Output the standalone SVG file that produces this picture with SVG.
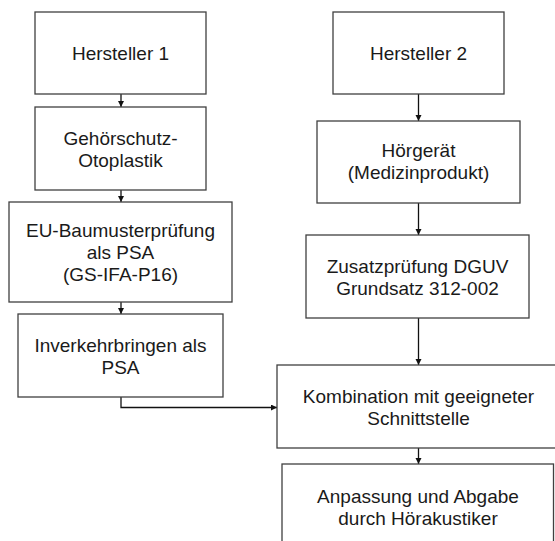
<svg xmlns="http://www.w3.org/2000/svg" width="555" height="541" viewBox="0 0 555 541">
<style>
.box{fill:#fff;stroke:#404040;stroke-width:1.3}
.t{font-family:"Liberation Sans",Arial,sans-serif;font-size:19px;fill:#1a1a1a;text-anchor:middle}
.c{fill:none;stroke:#111;stroke-width:1.3;marker-end:url(#ah)}
</style>
<defs>
<marker id="ah" markerUnits="userSpaceOnUse" markerWidth="7" markerHeight="7" refX="6" refY="3" orient="auto">
<path d="M0,0 L6,3 L0,6 z" fill="#111"/>
</marker>
</defs>
<rect width="555" height="541" fill="#fff"/>
<g id="connectors">
<path class="c" d="M121,94 V107"/>
<path class="c" d="M121,190 V202"/>
<path class="c" d="M121,302 V314"/>
<path class="c" d="M121,397 V407.5 H277"/>
<path class="c" d="M418.5,94 V121"/>
<path class="c" d="M418.5,203 V235"/>
<path class="c" d="M418.5,318 V365"/>
<path class="c" d="M418.5,448 V464"/>
</g>
<g id="hersteller1">
<rect class="box" x="35" y="12" width="171" height="82"/>
<text class="t" x="120.5" y="60">Hersteller 1</text>
</g>
<g id="otoplastik">
<rect class="box" x="35" y="107" width="171" height="83"/>
<text class="t" x="120.5" y="145">Gehörschutz-</text>
<text class="t" x="120.5" y="167">Otoplastik</text>
</g>
<g id="baumuster">
<rect class="box" x="9" y="202" width="223" height="100"/>
<text class="t" x="120.5" y="237">EU-Baumusterprüfung</text>
<text class="t" x="120.5" y="259">als PSA</text>
<text class="t" x="120.5" y="281">(GS-IFA-P16)</text>
</g>
<g id="inverkehr">
<rect class="box" x="18" y="314" width="205" height="83"/>
<text class="t" x="120.5" y="352">Inverkehrbringen als</text>
<text class="t" x="120.5" y="374">PSA</text>
</g>
<g id="hersteller2">
<rect class="box" x="333" y="12" width="171" height="82"/>
<text class="t" x="418.5" y="60">Hersteller 2</text>
</g>
<g id="hoergeraet">
<rect class="box" x="317" y="121" width="203" height="82"/>
<text class="t" x="418.5" y="157">Hörgerät</text>
<text class="t" x="418.5" y="179">(Medizinprodukt)</text>
</g>
<g id="zusatz">
<rect class="box" x="306" y="235" width="223" height="83"/>
<text class="t" x="417.5" y="273">Zusatzprüfung DGUV</text>
<text class="t" x="417.5" y="295">Grundsatz 312-002</text>
</g>
<g id="kombination">
<rect class="box" x="277" y="365" width="283" height="83"/>
<text class="t" x="418.5" y="403">Kombination mit geeigneter</text>
<text class="t" x="418.5" y="425">Schnittstelle</text>
</g>
<g id="anpassung">
<rect class="box" x="282" y="464" width="271.5" height="85"/>
<text class="t" x="418" y="503">Anpassung und Abgabe</text>
<text class="t" x="418" y="525">durch Hörakustiker</text>
</g>
</svg>
